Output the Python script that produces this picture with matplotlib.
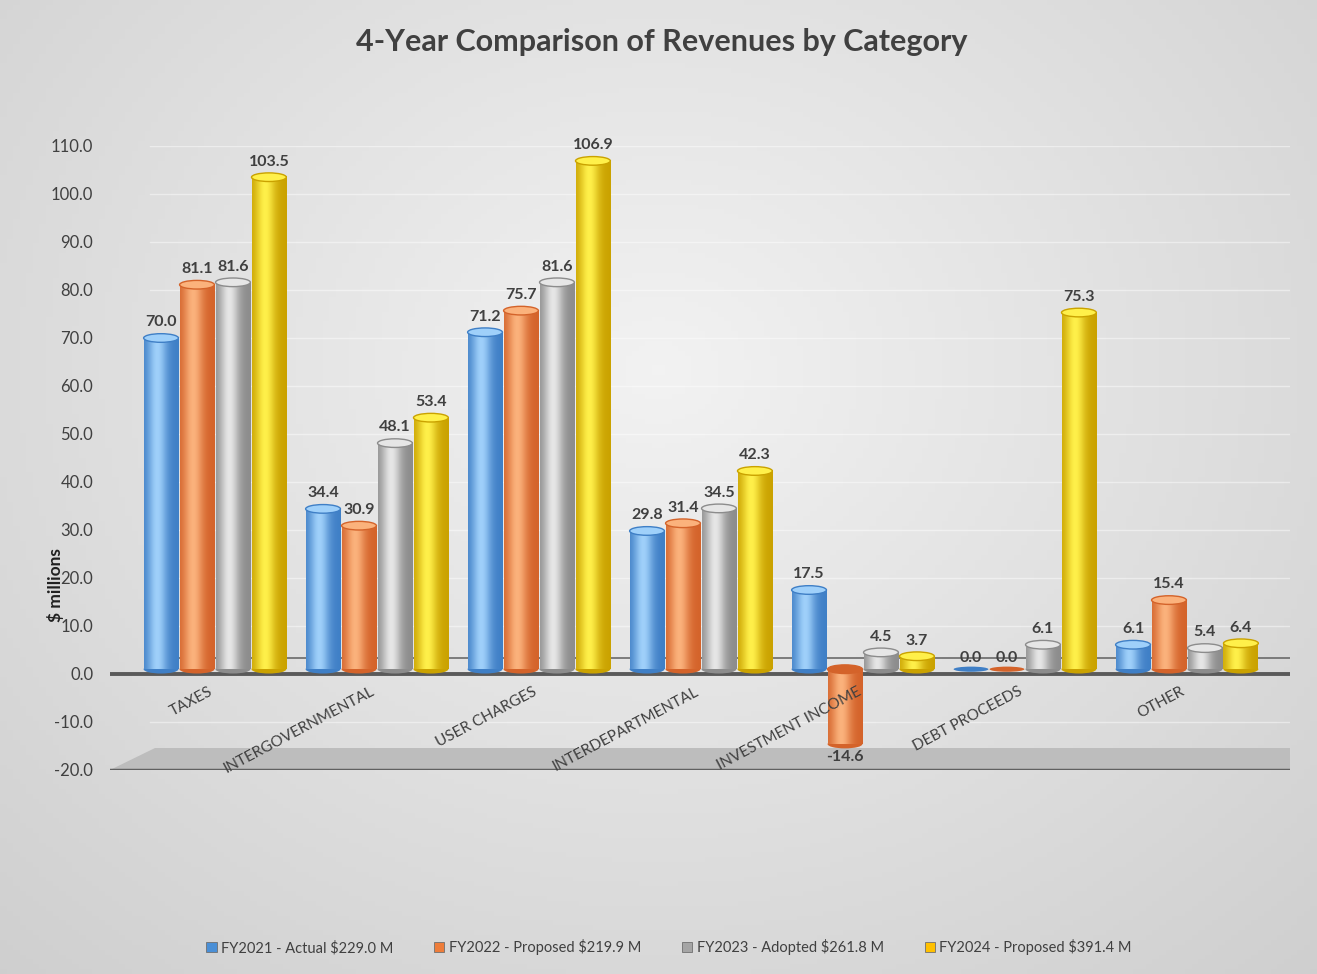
import matplotlib
matplotlib.use("Agg")
import matplotlib.pyplot as plt
import numpy as np
from matplotlib.patches import Ellipse, Polygon, Patch
from matplotlib.colors import to_rgb

plt.rcParams['font.family'] = ['Lato', 'DejaVu Sans']

categories = ["TAXES", "INTERGOVERNMENTAL", "USER CHARGES", "INTERDEPARTMENTAL",
              "INVESTMENT INCOME", "DEBT PROCEEDS", "OTHER"]
series_names = ["FY2021 - Actual $229.0 M", "FY2022 - Proposed $219.9 M",
                "FY2023 - Adopted $261.8 M", "FY2024 - Proposed $391.4 M"]
fy2021 = [70.0, 34.4, 71.2, 29.8, 17.5, 0.0, 6.1]
fy2022 = [81.1, 30.9, 75.7, 31.4, -14.6, 0.0, 15.4]
fy2023 = [81.6, 48.1, 81.6, 34.5, 4.5, 6.1, 5.4]
fy2024 = [103.5, 53.4, 106.9, 42.3, 3.7, 75.3, 6.4]
series = [fy2021, fy2022, fy2023, fy2024]

# edge colour, highlight colour for each cylinder series
shades = [("#3f7fc6", "#9fd0fa"), ("#d4632a", "#fbb27c"),
          ("#8c8c8c", "#e6e6e6"), ("#caa200", "#fff04a")]
legend_cols = ["#4a8fd6", "#ee7d3a", "#a5a5a5", "#ffc000"]

fig = plt.figure(figsize=(13.17, 9.74), dpi=100)

# soft grey backdrop, lighter toward the upper middle
bg = fig.add_axes([0, 0, 1, 1], zorder=-10)
yy, xx = np.mgrid[0:1:200j, 0:1:200j]
r = np.sqrt(((xx - 0.5) / 0.75) ** 2 + ((yy - 0.38) / 0.85) ** 2)
bgval = np.clip(0.95 - 0.14 * r, 0.80, 0.955)
bg.imshow(np.dstack([bgval] * 3), extent=(0, 1, 0, 1), aspect='auto', origin='upper')
bg.set_axis_off()

ax = fig.add_axes([110 / 1317, 1 - 770 / 974, 1180 / 1317, 624 / 974])
ax.patch.set_alpha(0)

x = np.arange(len(categories))
w = 0.215
offsets = [-0.333, -0.111, 0.111, 0.333]
cap_h = 1.8
base = 1.0  # cylinders stand slightly behind the front floor edge

# faint back-wall grid
for t in range(-20, 111, 10):
    ax.plot([-0.4, 6.64], [t, t], color="white", lw=1, alpha=0.45, zorder=0)
ax.plot([-0.4, 6.64], [3.4, 3.4], color="#6a6a6a", lw=1.2, zorder=0.5)

# floor at the bottom of the plot
ax.add_patch(Polygon([(-0.37, -15.5), (6.64, -15.5), (6.64, -20), (-0.648, -20)],
                     closed=True, facecolor="#bdbdbd", edgecolor="none", zorder=0.6))
ax.plot([-0.648, 6.64], [-20, -20], color="#606060", lw=2.5, zorder=0.7)
ax.plot([-0.648, 6.64], [0, 0], color="#5a5a5a", lw=2.8, zorder=0.7)

def cyl_image(edge, hi):
    e = np.array(to_rgb(edge))
    h = np.array(to_rgb(hi))
    t = np.linspace(0, 1, 64)
    prof = np.exp(-((t - 0.38) / 0.28) ** 2)
    return (e[None, :] + (h - e)[None, :] * prof[:, None])[None, :, :]

for s, vals in enumerate(series):
    edge, hi = shades[s]
    img = cyl_image(edge, hi)
    for i, v in enumerate(vals):
        xc = x[i] + offsets[s]
        x0, x1 = xc - w / 2, xc + w / 2
        if v > 0:
            ax.imshow(img, extent=(x0, x1, base, v), aspect='auto', zorder=2, interpolation='bilinear')
            ax.add_patch(Ellipse((xc, base), w, cap_h, facecolor=edge, edgecolor="none", zorder=1.9))
            ax.add_patch(Ellipse((xc, v), w, cap_h, facecolor=hi, edgecolor=edge, lw=1.0, zorder=3))
        elif v < 0:
            ax.imshow(img, extent=(x0, x1, v, base), aspect='auto', zorder=2, interpolation='bilinear')
            ax.add_patch(Ellipse((xc, v), w, cap_h, facecolor=edge, edgecolor="none", zorder=1.9))
            ax.add_patch(Ellipse((xc, base), w, cap_h, facecolor=edge, edgecolor=edge, lw=1.0, zorder=3))
        else:
            ax.add_patch(Ellipse((xc, base), w, cap_h * 0.6, facecolor=edge, edgecolor="none", zorder=3))
        if v >= 0:
            ax.text(xc, v + 1.8, f"{v:.1f}", ha='center', va='bottom', fontsize=11.5,
                    fontweight='bold', color="#404040", zorder=5)
        else:
            ax.text(xc, v - 1.3, f"{v:.1f}", ha='center', va='top', fontsize=11.5,
                    fontweight='bold', color="#404040", zorder=5)

for i, c in enumerate(categories):
    ax.text(x[i] - 0.04, -2.2, c, rotation=28, rotation_mode='anchor', ha='right', va='top',
            fontsize=11, color="#404040", zorder=5)

ax.set_xlim(-0.648, 6.636)
ax.set_ylim(-20, 110)
ax.set_yticks(np.arange(-20, 111, 10))
ax.set_yticklabels([f"{t:.1f}" for t in range(-20, 111, 10)])
ax.set_xticks([])
ax.tick_params(axis='y', length=0, pad=12, labelsize=12, labelcolor="#404040")
for sp in ax.spines.values():
    sp.set_visible(False)

fig.text(55 / 1317, 1 - 585 / 974, "$ millions", rotation=90, ha='center', va='center',
         fontsize=12.5, fontweight='bold', color="#202020")
fig.text(662 / 1317, 1 - 42 / 974, "4-Year Comparison of Revenues by Category", ha='center',
         va='center', fontsize=22, fontweight='bold', color="#404040")

handles = [Patch(facecolor=legend_cols[k], edgecolor="#707070", lw=0.6, label=series_names[k])
           for k in range(4)]
fig.legend(handles=handles, loc='center', bbox_to_anchor=(0.508, 1 - 947 / 974), ncol=4,
           frameon=False, fontsize=10.5, handlelength=0.7, handleheight=0.7, handletextpad=0.3,
           columnspacing=2.8, labelcolor="#404040")

fig.savefig("out.png", dpi=100)
